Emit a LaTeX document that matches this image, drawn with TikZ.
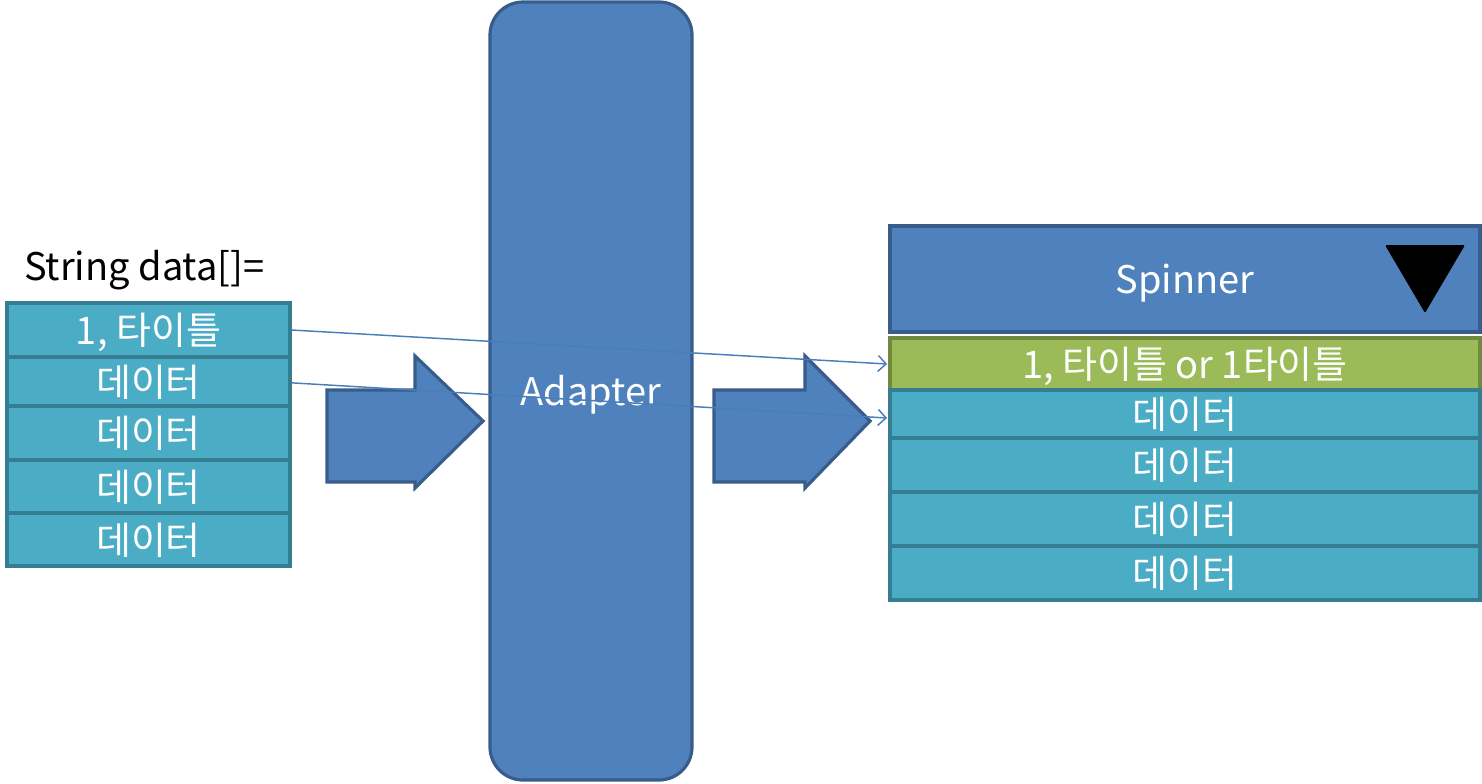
\documentclass[tikz,border=0pt]{standalone}
\usepackage{fontspec}
\setmainfont{Noto Sans CJK KR}
\usetikzlibrary{arrows.meta}
\definecolor{adfill}{HTML}{4F81BD}
\definecolor{adline}{HTML}{385D8A}
\definecolor{tefill}{HTML}{4BACC6}
\definecolor{teline}{HTML}{357D91}
\definecolor{grfill}{HTML}{9BBB59}
\definecolor{grline}{HTML}{71893F}
\definecolor{thinblue}{HTML}{4A7EBB}
\begin{document}
\begin{tikzpicture}[x=0.75pt,y=-0.75pt,
  txt/.style={font=\fontsize{28.5}{32}\selectfont},
  boxtxt/.style={txt,text height=21.8pt,text depth=0pt},
  cell/.style={draw=teline,fill=tefill,line width=2.4pt,text=white,inner sep=0pt,boxtxt},
  lcell/.style={cell,minimum width=212.25pt},
  rcell/.style={cell,minimum width=442.5pt},
  gcell/.style={rcell,draw=grline,fill=grfill},
  bluebox/.style={draw=adline,fill=adfill,line width=2.4pt,text=white,inner sep=0pt,boxtxt},
  blockarrow/.style={draw=adline,fill=adfill,line width=2.4pt,line join=miter},
  link/.style={draw=thinblue,line width=1.1pt,-{Straight Barb[length=6pt,width=12pt,line width=1.1pt]}}
]
\useasboundingbox (0,0) rectangle (1482,783);

% Adapter
\node[bluebox,rounded corners=24.75pt,minimum width=151.5pt,minimum height=583.5pt] (adapter) at (591,391) {Adapter};

% block arrows
\draw[blockarrow] (327,390) -- (415,390) -- (415,356) -- (483,421) -- (415,488) -- (415,482) -- (327,482) -- cycle;
\draw[blockarrow] (714,390) -- (805,390) -- (805,356) -- (870,421) -- (805,488) -- (805,482) -- (714,482) -- cycle;

% left label
\node[txt,anchor=base west,inner sep=0pt] (label) at (24,280) {String data[]=};

% left list
\node[lcell,minimum height=40.5pt]  (l1) at (148.5,330)   {1, 타이틀};
\node[lcell,minimum height=36.75pt] (l2) at (148.5,381.5) {데이터};
\node[lcell,minimum height=40.5pt]  (l3) at (148.5,433)   {데이터};
\node[lcell,minimum height=39.75pt] (l4) at (148.5,486.5) {데이터};
\node[lcell,minimum height=39.75pt] (l5) at (148.5,539.5) {데이터};

% spinner
\node[bluebox,minimum width=442.5pt,minimum height=79.5pt] (spinner) at (1185,279) {Spinner};
\fill[black,rounded corners=1pt] (1385,245) -- (1465,245) -- (1425,313) -- cycle;

% right list
\node[gcell,minimum height=39pt]   (r1) at (1185,364) {1, 타이틀 or 1타이틀};
\node[rcell,minimum height=36pt]   (r2) at (1185,414) {데이터};
\node[rcell,minimum height=40.5pt] (r3) at (1185,465) {데이터};
\node[rcell,minimum height=40.5pt] (r4) at (1185,519) {데이터};
\node[rcell,minimum height=40.5pt] (r5) at (1185,573) {데이터};

% links
\draw[link] (l1.east) -- ([xshift=-1pt]r1.west);
\draw[link] ([yshift=-1pt]l2.east) -- ([xshift=-1pt,yshift=-3pt]r2.west);
\end{tikzpicture}
\end{document}
